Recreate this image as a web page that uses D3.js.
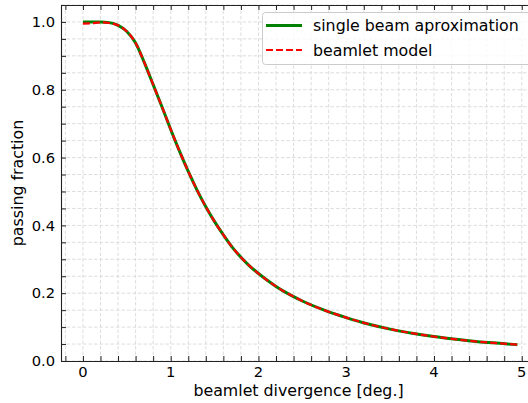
<!DOCTYPE html>
<html>
<head>
<meta charset="utf-8">
<script src="https://cdn.jsdelivr.net/npm/d3@7"></script>
<style>
  html, body { margin: 0; padding: 0; background: #fff; }
  svg { display: block; font-family: "DejaVu Sans", sans-serif; }
</style>
</head>
<body>
<svg id="chart" width="528" height="403"></svg>
<script>
// ---- data ----
const divergence = [0, 0.1, 0.2, 0.3, 0.4, 0.5, 0.6, 0.7, 0.8, 0.9, 1.0, 1.1, 1.2, 1.3, 1.4, 1.5, 1.6, 1.7, 1.8, 1.9, 2.0,
                    2.1, 2.2, 2.3, 2.4, 2.5, 2.75, 3.0, 3.25, 3.5, 3.75, 4.0, 4.25, 4.5, 4.75, 4.95];
const singleBeam = [1.0, 1.0, 1.0, 0.998, 0.99, 0.972, 0.938, 0.88, 0.815, 0.75, 0.683, 0.619, 0.559, 0.504, 0.455, 0.411, 0.372, 0.336, 0.306, 0.280, 0.258,
                    0.238, 0.220, 0.204, 0.190, 0.177, 0.150, 0.128, 0.109, 0.094, 0.082, 0.072, 0.064, 0.057, 0.052, 0.048];
const beamletModel = [0.995, 0.996, 0.999, 0.997, 0.99, 0.972, 0.938, 0.88, 0.815, 0.75, 0.683, 0.619, 0.559, 0.504, 0.455, 0.411, 0.372, 0.336, 0.306, 0.280, 0.258,
                    0.238, 0.220, 0.204, 0.190, 0.177, 0.150, 0.128, 0.109, 0.094, 0.082, 0.072, 0.064, 0.057, 0.052, 0.048];
const xTicks = [0, 1, 2, 3, 4, 5];
const yTicks = [0.0, 0.2, 0.4, 0.6, 0.8, 1.0];
const seriesNames = ["single beam aproximation", "beamlet model"];
const xLabel = "beamlet divergence [deg.]";
const yLabel = "passing fraction";

(function () {
// ---- layout ----
const svg = d3.select("#chart");
const pL = 61, pR = 543.7, pT = 5, pB = 361;
const x = d3.scaleLinear().domain([-0.25, 5.25]).range([pL, pR]);
const y = d3.scaleLinear().domain([0, 1.05]).range([pB, pT]);

// grid (major + minor)
const xGrid = d3.range(-0.2, 5.21, 0.2);
const yGrid = d3.range(0, 1.051, 0.05);
const grid = svg.append("g");
grid.selectAll("line.gx").data(xGrid).enter().append("line")
  .attr("x1", d => x(d)).attr("x2", d => x(d)).attr("y1", pT).attr("y2", pB)
  .attr("stroke", "#d9d9d9").attr("stroke-width", 0.9).attr("stroke-dasharray", "3.5,2");
grid.selectAll("line.gy").data(yGrid).enter().append("line")
  .attr("x1", pL).attr("x2", pR).attr("y1", d => y(d)).attr("y2", d => y(d))
  .attr("stroke", "#d9d9d9").attr("stroke-width", 0.9).attr("stroke-dasharray", "3.5,2");

// lines
const line = (vals) => d3.line()
  .x((d, i) => x(divergence[i])).y(d => y(d))
  .curve(d3.curveMonotoneX)(vals);
svg.append("path").attr("d", line(singleBeam))
  .attr("fill", "none").attr("stroke", "#008000").attr("stroke-width", 3);
svg.append("path").attr("d", line(beamletModel))
  .attr("fill", "none").attr("stroke", "#ff0000").attr("stroke-width", 2.2)
  .attr("stroke-dasharray", "7,3");

// axes with inward ticks
const xMinor = d3.range(-0.2, 5.21, 0.2);
const yMinor = d3.range(0, 1.051, 0.05);
const axisStyle = g => { g.select(".domain").attr("stroke", "#222").attr("stroke-width", 1.1);
  g.selectAll(".tick line").attr("stroke", "#222").attr("stroke-width", 1); };

svg.append("g").attr("transform", `translate(0,${pB})`)
  .call(d3.axisBottom(x).tickValues(xMinor).tickSize(-5).tickSizeOuter(0).tickFormat(""))
  .call(axisStyle);
svg.append("g").attr("transform", `translate(0,${pT})`)
  .call(d3.axisTop(x).tickValues(xMinor).tickSize(-5).tickSizeOuter(0).tickFormat(""))
  .call(axisStyle);
svg.append("g").attr("transform", `translate(${pL},0)`)
  .call(d3.axisLeft(y).tickValues(yMinor).tickSize(-5).tickSizeOuter(0).tickFormat(""))
  .call(axisStyle);
svg.append("g").attr("transform", `translate(${pR},0)`)
  .call(d3.axisRight(y).tickValues(yMinor).tickSize(-5).tickSizeOuter(0).tickFormat(""))
  .call(axisStyle);

// tick labels
svg.append("g").selectAll("text").data(xTicks).enter().append("text")
  .attr("x", d => x(d)).attr("y", 377).attr("text-anchor", "middle")
  .attr("font-size", 14.7).attr("fill", "#000").text(d => d3.format("d")(d));
svg.append("g").selectAll("text").data(yTicks).enter().append("text")
  .attr("x", 55).attr("y", d => y(d)).attr("dy", "0.36em").attr("text-anchor", "end")
  .attr("font-size", 14.7).attr("fill", "#000").text(d => d3.format(".1f")(d));

// axis labels
svg.append("text").attr("x", 298.5).attr("y", 396).attr("text-anchor", "middle")
  .attr("font-size", 15.8).attr("fill", "#000").text(xLabel);
svg.append("text").attr("transform", `translate(23,183) rotate(-90)`).attr("text-anchor", "middle")
  .attr("font-size", 15.8).attr("fill", "#000").text(yLabel);

// legend
const lg = svg.append("g");
lg.append("rect").attr("x", 262.5).attr("y", 12.5).attr("width", 300).attr("height", 52)
  .attr("rx", 3).attr("fill", "rgba(255,255,255,0.8)").attr("stroke", "#cccccc").attr("stroke-width", 1);
const legendItems = [
  {name: seriesNames[0], color: "#008000", w: 3, dash: null},
  {name: seriesNames[1], color: "#ff0000", w: 2.2, dash: "7,3"}
];
legendItems.forEach((it, i) => {
  const cy = 25.5 + i * 24.5;
  lg.append("line").attr("x1", 266).attr("x2", 302).attr("y1", cy).attr("y2", cy)
    .attr("stroke", it.color).attr("stroke-width", it.w).attr("stroke-dasharray", it.dash);
  lg.append("text").attr("x", 313).attr("y", cy).attr("dy", "0.36em")
    .attr("font-size", 15.8).attr("fill", "#000").text(it.name);
});
})();
</script>
</body>
</html>
